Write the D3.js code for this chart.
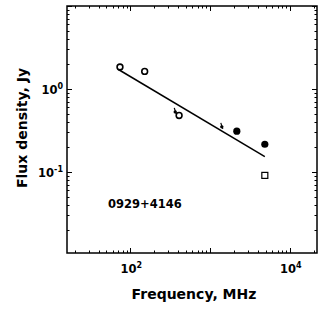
<!DOCTYPE html>
<html>
<head>
<meta charset="utf-8">
<script src="https://cdn.jsdelivr.net/npm/d3@7"></script>
<style>
  body { margin: 0; background: #fff; }
  text { font-family: "DejaVu Sans", sans-serif; font-weight: bold; fill: #000; }
</style>
</head>
<body>
<div id="chart"></div>
<script>
// measured points, MHz / Jy
const openFreq = [74, 151, 408];
const openFlux = [1.84, 1.63, 0.48];
const filledFreq = [2160, 4850];
const filledFlux = [0.31, 0.216];
const smallFreq = [365, 1400];
const smallFlux = [0.53, 0.35];
const squareFreq = [4850];
const squareFlux = [0.091];
// power-law fit end points
const fitFreq = [70, 4850];
const fitFlux = [1.73, 0.153];
const xTickLabels = [100, 10000];
const yTickLabels = [1, 0.1];
const sourceName = "0929+4146";

const W = 327, H = 311;
const margin = {top: 6, right: 10, bottom: 58, left: 67};
const iw = W - margin.left - margin.right,
      ih = H - margin.top - margin.bottom;

const svg = d3.select("#chart").append("svg")
    .attr("width", W)
    .attr("height", H);

const g = svg.append("g")
    .attr("transform", "translate(" + margin.left + "," + margin.top + ")");

const x = d3.scaleLog().domain([Math.pow(10, 1.205), Math.pow(10, 4.34)]).range([0, iw]);
const y = d3.scaleLog().domain([Math.pow(10, -1.976), 10]).range([ih, 0]);

// tick helpers (inward ticks on all four sides)
function logTicks(scale) {
  let [a, b] = scale.domain();
  let out = [];
  for (let e = Math.floor(Math.log10(a)); e <= Math.ceil(Math.log10(b)); e++) {
    for (let m = 1; m < 10; m++) {
      let v = m * Math.pow(10, e);
      if (v >= a * 0.999 && v <= b * 1.001) out.push({v: v, major: m === 1});
    }
  }
  return out;
}

const ticksG = g.append("g").attr("stroke", "#000").attr("stroke-width", 1);
logTicks(x).forEach(t => {
  let px = Math.round(x(t.v)) + 0.5, len = t.major ? 5 : 2.5;
  ticksG.append("line").attr("x1", px).attr("x2", px).attr("y1", ih).attr("y2", ih - len);
  ticksG.append("line").attr("x1", px).attr("x2", px).attr("y1", 0).attr("y2", len);
});
logTicks(y).forEach(t => {
  let py = Math.round(y(t.v)) + 0.5, len = t.major ? 5 : 2.5;
  ticksG.append("line").attr("x1", 0).attr("x2", len).attr("y1", py).attr("y2", py);
  ticksG.append("line").attr("x1", iw).attr("x2", iw - len).attr("y1", py).attr("y2", py);
});

// frame
g.append("rect")
    .attr("x", 0).attr("y", 0)
    .attr("width", iw).attr("height", ih)
    .attr("fill", "none")
    .attr("stroke", "#000")
    .attr("stroke-width", 1.5);

// tick labels
xTickLabels.forEach(v => {
  let t = g.append("text")
      .attr("x", x(v) + 1)
      .attr("y", ih + 20)
      .attr("text-anchor", "middle")
      .attr("font-size", 11.5);
  t.append("tspan").text("10");
  t.append("tspan").attr("font-size", 8).attr("dy", -5).text(Math.round(Math.log10(v)));
});
yTickLabels.forEach(v => {
  let t = g.append("text")
      .attr("x", -4)
      .attr("y", y(v) + 5)
      .attr("text-anchor", "end")
      .attr("font-size", 11.5);
  t.append("tspan").text("10");
  t.append("tspan").attr("font-size", 8).attr("dy", -5).text(Math.round(Math.log10(v)));
});

// axis titles
svg.append("text")
    .attr("x", margin.left + iw / 2 + 2)
    .attr("y", 299)
    .attr("text-anchor", "middle")
    .attr("font-size", 14)
    .text("Frequency, MHz");

svg.append("text")
    .attr("transform", "translate(27," + 128 + ") rotate(-90)")
    .attr("text-anchor", "middle")
    .attr("font-size", 14)
    .text("Flux density, Jy");

// fit line
g.append("line")
    .attr("x1", x(fitFreq[0])).attr("y1", y(fitFlux[0]))
    .attr("x2", x(fitFreq[1])).attr("y2", y(fitFlux[1]))
    .attr("stroke", "#000")
    .attr("stroke-width", 1.5);

// open circles
g.selectAll(".open")
    .data(d3.zip(openFreq, openFlux))
  .enter().append("circle")
    .attr("cx", d => x(d[0]))
    .attr("cy", d => y(d[1]))
    .attr("r", 2.9)
    .attr("fill", "#fff")
    .attr("stroke", "#000")
    .attr("stroke-width", 1.6);

// filled circles
g.selectAll(".filled")
    .data(d3.zip(filledFreq, filledFlux))
  .enter().append("circle")
    .attr("cx", d => x(d[0]))
    .attr("cy", d => y(d[1]))
    .attr("r", 3.6)
    .attr("fill", "#000");

// small points with error bars
const small = g.selectAll(".small")
    .data(d3.zip(smallFreq, smallFlux))
  .enter().append("g");
small.append("line")
    .attr("x1", d => x(d[0]) - 1).attr("x2", d => x(d[0]) + 1)
    .attr("y1", d => y(d[1]) - 4).attr("y2", d => y(d[1]) + 2)
    .attr("stroke", "#000")
    .attr("stroke-width", 1.2);
small.append("circle")
    .attr("cx", d => x(d[0]))
    .attr("cy", d => y(d[1]))
    .attr("r", 1.7)
    .attr("fill", "#000");

// open square
g.selectAll(".square")
    .data(d3.zip(squareFreq, squareFlux))
  .enter().append("rect")
    .attr("x", d => x(d[0]) - 3)
    .attr("y", d => y(d[1]) - 3)
    .attr("width", 6)
    .attr("height", 6)
    .attr("fill", "#fff")
    .attr("stroke", "#000")
    .attr("stroke-width", 1.2);

// source name
svg.append("text")
    .attr("x", 108)
    .attr("y", 208)
    .attr("font-size", 11.5)
    .text(sourceName);
</script>
</body>
</html>
